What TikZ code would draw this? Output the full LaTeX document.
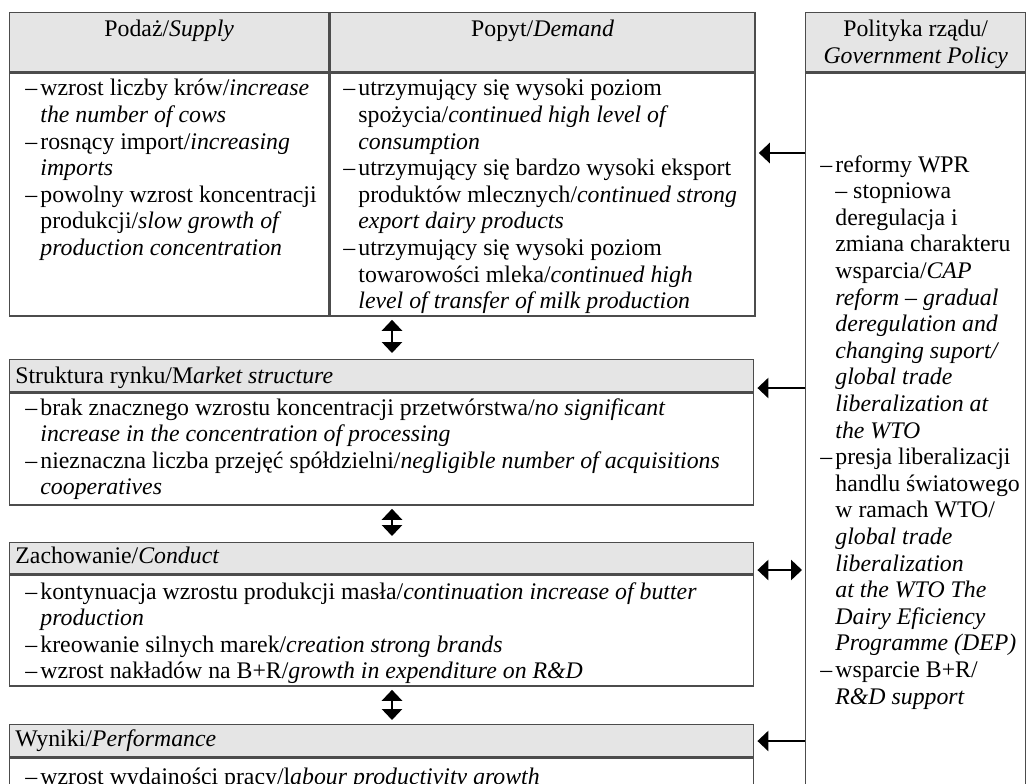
\documentclass[tikz,border=0pt]{standalone}
\usepackage{fontspec}
\setmainfont{Liberation Serif}
\usetikzlibrary{arrows.meta, positioning}
\newcommand{\fs}{\fontsize{11.9}{13.3}\selectfont}
\newcommand{\itemdash}{\makebox[7.5pt][l]{–}}
\newcommand{\itemind}{\hspace*{7.5pt}}

\begin{document}
\begin{tikzpicture}[x=0.5pt, y=-0.5pt]
\tikzstyle{hdrbox}=[rectangle, draw=black!70, fill=black!10, line width=0.7pt, inner sep=0pt, anchor=north west]
\tikzstyle{bodybox}=[rectangle, draw=black!70, line width=0.7pt, inner sep=0pt, anchor=north west]
\tikzstyle{txt}=[inner sep=0pt, align=left, font=\fs]
\tikzstyle{connect}=[-{Triangle[length=5.5pt, width=10pt]}, line width=1.4pt]
\tikzstyle{both}=[{Triangle[length=5.5pt, width=10pt]}-{Triangle[length=5.5pt, width=10pt]}, line width=1.4pt]
    \useasboundingbox (0,0) rectangle (1026,783);
    \clip (0,0) rectangle (1026,783);
    % top table: supply / demand
    \node[hdrbox, minimum width=159.5pt, minimum height=29.5pt] (suph) at (9,12) { };
    \node[hdrbox, minimum width=212.5pt, minimum height=29.5pt] (demh) at (suph.north east) { };
    \node[bodybox, minimum width=159.5pt, minimum height=121.5pt] (supb) at (suph.south west) { };
    \node[bodybox, minimum width=212.5pt, minimum height=121.5pt] (demb) at (demh.south west) { };
    % government policy column
    \node[hdrbox, minimum width=110pt, minimum height=29.5pt] (polh) at (805,12) { };
    \node[bodybox, minimum width=110pt, minimum height=390pt] (polb) at (polh.south west) { };
    % structure, conduct, performance
    \node[hdrbox, minimum width=372pt, minimum height=16pt] (strh) at (9,359) { };
    \node[bodybox, minimum width=372pt, minimum height=56pt] (strb) at (strh.south west) { };
    \node[hdrbox, minimum width=372pt, minimum height=15.5pt] (conh) at (9,542) { };
    \node[bodybox, minimum width=372pt, minimum height=55.5pt] (conb) at (conh.south west) { };
    \node[hdrbox, minimum width=372pt, minimum height=16pt] (perh) at (9,724) { };
    \node[bodybox, minimum width=372pt, minimum height=50pt] (perb) at (perh.south west) { };

    % titles
    \node[txt, anchor=base] (suptitle) at (suph.north |- 0,36) {Podaż/\textit{Supply}};
    \node[txt, anchor=base] (demtitle) at (demh.north |- 0,36) {Popyt/\textit{Demand}};
    \node[txt, anchor=north, align=center] (poltitle) at (polh.north |- 0,20) {Polityka rządu/\\\textit{Government Policy}};
    \node[txt, anchor=base west] (strtitle) at (15,383) {Struktura rynku/M\textit{arket structure}};
    \node[txt, anchor=base west] (contitle) at (15,563) {Zachowanie/\textit{Conduct}};
    \node[txt, anchor=base west] (pertitle) at (15,746) {Wyniki/\textit{Performance}};

    % contents
    \node[txt, anchor=north west] (suptext) at (25,79) {\itemdash wzrost liczby krów/\textit{increase}\\
        \itemind\textit{the number of cows}\\
        \itemdash rosnący import/\textit{increasing}\\
        \itemind\textit{imports}\\
        \itemdash powolny wzrost koncentracji\\
        \itemind produkcji/\textit{slow growth of}\\
        \itemind\textit{production concentration}};
    \node[txt, anchor=north west] (demtext) at (343,79) {\itemdash utrzymujący się wysoki poziom\\
        \itemind spożycia/\textit{continued high level of}\\
        \itemind\textit{consumption}\\
        \itemdash utrzymujący się bardzo wysoki eksport\\
        \itemind produktów mlecznych/\textit{continued strong}\\
        \itemind\textit{export dairy products}\\
        \itemdash utrzymujący się wysoki poziom\\
        \itemind towarowości mleka/\textit{continued high}\\
        \itemind\textit{level of transfer of milk production}};
    \node[txt, anchor=north west] (poltext) at (820,155) {\itemdash reformy WPR\\
        \itemind – stopniowa\\
        \itemind deregulacja i\\
        \itemind zmiana charakteru\\
        \itemind wsparcia/\textit{CAP}\\
        \itemind\textit{reform – gradual}\\
        \itemind\textit{deregulation and}\\
        \itemind\textit{changing suport/}\\
        \itemind\textit{global trade}\\
        \itemind\textit{liberalization at}\\
        \itemind\textit{the WTO}\\
        \itemdash presja liberalizacji\\
        \itemind handlu światowego\\
        \itemind w ramach WTO/\\
        \itemind\textit{global trade}\\
        \itemind\textit{liberalization}\\
        \itemind\textit{at the WTO The}\\
        \itemind\textit{Dairy Eficiency}\\
        \itemind\textit{Programme (DEP)}\\
        \itemdash wsparcie B+R/\\
        \itemind\textit{R\&D support}};
    \node[txt, anchor=north west] (strtext) at (25,398) {\itemdash brak znacznego wzrostu koncentracji przetwórstwa/\textit{no significant}\\
        \itemind\textit{increase in the concentration of processing}\\
        \itemdash nieznaczna liczba przejęć spółdzielni/\textit{negligible number of acquisitions}\\
        \itemind\textit{cooperatives}};
    \node[txt, anchor=north west] (context) at (25,582) {\itemdash kontynuacja wzrostu produkcji masła/\textit{continuation increase of butter}\\
        \itemind\textit{production}\\
        \itemdash kreowanie silnych marek/\textit{creation strong brands}\\
        \itemdash wzrost nakładów na B+R/\textit{growth in expenditure on R\&D}};
    \node[txt, anchor=north west] (pertext) at (25,768) {\itemdash wzrost wydajności pracy/l\textit{abour productivity growth}};

    % arrows
    \coordinate (vx) at (392,0);
    \coordinate (ya) at (0,153);
    \coordinate (yb) at (0,388);
    \coordinate (yc) at (0,570);
    \coordinate (yd) at (0,741);
    \draw[both, shorten <=1.5pt, shorten >=3pt] (demb.south -| vx) -- (strh.north -| vx);
    \draw[both, shorten <=1.5pt, shorten >=3pt] (strb.south -| vx) -- (conh.north -| vx);
    \draw[both, shorten <=1.5pt, shorten >=2pt] (conb.south -| vx) -- (perh.north -| vx);
    \draw[connect, shorten >=1.5pt] (polb.west |- ya) -- (demb.east |- ya);
    \draw[connect, shorten >=1.5pt] (polb.west |- yb) -- (strh.east |- yb);
    \draw[both, shorten <=1.5pt, shorten >=1.5pt] (polb.west |- yc) -- (conh.east |- yc);
    \draw[connect, shorten >=1.5pt] (polb.west |- yd) -- (perh.east |- yd);
\end{tikzpicture}
\end{document}
